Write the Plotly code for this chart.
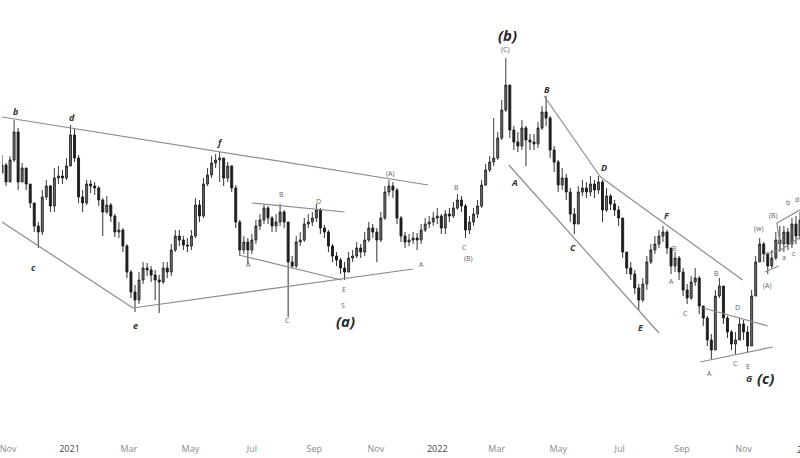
import pandas as pd
import plotly.graph_objects as go

# ---------------- data (4-day candles) ----------------
START = "2020-10-26"
FIRST_OPEN = 1900.5

close = [
    1912.5, 1887, 1920, 1962, 1887, 1908, 1884, 1855.5, 1821, 1812,
    1864.5, 1881, 1851, 1893, 1896, 1893, 1911, 1957.5, 1923, 1864.5,
    1855.5, 1884, 1881, 1878, 1860, 1842, 1852.5, 1836, 1812, 1815,
    1791, 1752, 1722, 1710, 1740, 1758, 1755, 1747.5, 1740, 1737,
    1758, 1752, 1785, 1806, 1800, 1792.5, 1791, 1806, 1852.5, 1836,
    1884, 1897.5, 1915.5, 1920, 1923, 1893, 1911, 1878, 1827, 1785,
    1797, 1785, 1800, 1821, 1830, 1848, 1833, 1821, 1827, 1842,
    1827, 1767, 1761, 1797, 1800, 1824, 1827, 1833, 1845, 1818,
    1812, 1791, 1776, 1770, 1758, 1752, 1773, 1776, 1788, 1782,
    1800, 1818, 1812, 1800, 1833, 1872, 1881, 1875, 1833, 1806,
    1797, 1800, 1803, 1800, 1815, 1824, 1827, 1833, 1836, 1818,
    1839, 1836, 1848, 1860, 1851, 1815, 1827, 1839, 1851, 1882.5,
    1905, 1917, 1923, 1953, 1995, 2032.5, 1965, 1947, 1941, 1968,
    1950, 1947, 1944, 1968, 1992, 1983, 1935, 1917, 1882.5, 1893,
    1872, 1839, 1824, 1872, 1878, 1872, 1884, 1875, 1887, 1845,
    1866, 1854, 1845, 1833, 1782, 1758, 1749, 1728, 1710, 1734,
    1767, 1785, 1794, 1806, 1812, 1788, 1761, 1773, 1752, 1725,
    1713, 1737, 1743, 1701, 1683, 1650, 1635, 1716, 1731, 1683,
    1662, 1644, 1650, 1674, 1662, 1641, 1716, 1767, 1794, 1779,
    1761, 1773, 1800, 1794, 1812, 1794, 1824, 1806, 1830,
]

high = [
    1927.5, 1915.5, 1926, 1980, 1968, 1915.5, 1908, 1882.5, 1852.5, 1827,
    1875, 1890, 1882.5, 1908, 1911, 1905, 1923, 1972.5, 1968, 1927.5,
    1875, 1890, 1890, 1887, 1881, 1863, 1866, 1855.5, 1839, 1827,
    1818, 1794, 1755, 1732.5, 1752, 1767, 1765.5, 1761, 1755, 1747.5,
    1767, 1767, 1794, 1815, 1815, 1806, 1803, 1815, 1863, 1860,
    1893, 1908, 1926, 1929, 1932, 1920, 1917, 1912.5, 1882.5, 1830,
    1806, 1803, 1809, 1830, 1839, 1854, 1851, 1836, 1839, 1854,
    1845, 1827, 1776, 1806, 1812, 1833, 1839, 1842, 1854, 1848,
    1822.5, 1815, 1794, 1782, 1773, 1767, 1782, 1785, 1797, 1794,
    1812, 1827, 1824, 1818, 1842, 1881, 1890, 1887, 1878, 1836,
    1812, 1809, 1812, 1810.5, 1824, 1833, 1836, 1842, 1848, 1839,
    1845, 1848, 1857, 1869, 1866, 1854, 1836, 1848, 1860, 1890,
    1914, 1926, 1983, 1962, 2010, 2073, 2010, 1971, 1962, 1980,
    1971, 1959, 1959, 1977, 2001, 2016, 1986, 1941, 1920, 1908,
    1899, 1878, 1848, 1881, 1890, 1887, 1896, 1890, 1896, 1890,
    1878, 1869, 1860, 1851, 1827, 1782, 1767, 1755, 1734, 1743,
    1776, 1794, 1806, 1815, 1821, 1815, 1788, 1782, 1776, 1758,
    1734, 1746, 1758, 1746, 1701, 1686, 1659, 1725, 1743, 1728,
    1686, 1665, 1662, 1683, 1680, 1671, 1725, 1776, 1803, 1797,
    1782, 1785, 1812, 1821, 1821, 1818, 1833, 1836, 1842,
]

low = [
    1902, 1881, 1890, 1917, 1875, 1887, 1875, 1848, 1812, 1788,
    1807.5, 1860, 1842, 1842, 1884, 1884, 1890, 1912.5, 1917, 1855.5,
    1842, 1852.5, 1870.5, 1867.5, 1851, 1806, 1839, 1827, 1804.5, 1803,
    1782, 1743, 1713, 1692, 1704, 1734, 1746, 1737, 1710, 1690.5,
    1734, 1743, 1746, 1782, 1791, 1785, 1782, 1785, 1803, 1827,
    1833, 1881, 1893, 1908, 1887, 1881, 1887, 1872, 1818, 1776,
    1779, 1764, 1779, 1794, 1815, 1824, 1824, 1812, 1812, 1821,
    1818, 1684.5, 1758, 1758, 1791, 1797, 1818, 1821, 1827, 1809,
    1803, 1782, 1767, 1761, 1749, 1740, 1752, 1767, 1773, 1773,
    1776, 1797, 1803, 1767, 1797, 1830, 1866, 1863, 1824, 1797,
    1788, 1791, 1794, 1785, 1794, 1812, 1818, 1821, 1824, 1809,
    1809, 1827, 1833, 1845, 1842, 1803, 1809, 1821, 1833, 1848,
    1881, 1902, 1911, 1920, 1950, 1992, 1953, 1935, 1932, 1935,
    1911, 1935, 1935, 1938, 1965, 1971, 1923, 1902, 1872, 1875,
    1860, 1827, 1809, 1827, 1866, 1863, 1866, 1863, 1869, 1827,
    1842, 1845, 1836, 1821, 1773, 1749, 1740, 1719, 1695, 1707,
    1725, 1764, 1779, 1788, 1797, 1779, 1749, 1752, 1740, 1716,
    1704, 1710, 1731, 1689, 1671, 1641, 1620, 1647, 1713, 1674,
    1653, 1635, 1629, 1653, 1650, 1632, 1641, 1716, 1767, 1767,
    1749, 1758, 1770, 1782, 1782, 1785, 1788, 1794, 1800,
]

# trend lines drawn by the analyst: (start date, start price, end date, end price)
trendlines = [
    ("2020-10-26", 1984.5, "2021-12-23", 1882.5),
    ("2020-10-26", 1827.0, "2021-03-05", 1698.0),
    ("2021-03-05", 1698.0, "2021-12-08", 1756.5),
    ("2021-06-18", 1777.5, "2021-09-28", 1740.0),
    ("2021-07-01", 1855.5, "2021-10-01", 1842.0),
    ("2022-04-17", 2016.0, "2022-06-12", 1894.5),
    ("2022-06-12", 1894.5, "2022-10-31", 1740.0),
    ("2022-03-13", 1912.5, "2022-08-09", 1660.5),
    ("2022-09-22", 1698.0, "2022-11-25", 1671.0),
    ("2022-09-19", 1617.0, "2022-11-30", 1639.5),
    ("2022-11-20", 1777.5, "2022-12-06", 1785.0),
    ("2022-11-22", 1752.0, "2022-12-06", 1761.0),
    ("2022-12-04", 1825.5, "2022-12-27", 1845.0),
    ("2022-12-08", 1785.0, "2022-12-27", 1804.5),
    ("2022-12-04", 1825.5, "2022-12-08", 1785.0),
]

# wave labels: (text, date, price, style)
wave_labels = [
    ("b", "2020-11-08", 1993.5, "med"),
    ("c", "2020-11-26", 1759.5, "med"),
    ("d", "2021-01-03", 1984.5, "med"),
    ("e", "2021-03-07", 1672.5, "med"),
    ("f", "2021-05-30", 1947.0, "med"),
    ("A", "2021-06-28", 1764.0, "small"),
    ("B", "2021-07-30", 1869.0, "small"),
    ("C", "2021-08-05", 1680.0, "small"),
    ("D", "2021-09-05", 1858.5, "small"),
    ("E", "2021-09-30", 1726.5, "small"),
    ("S", "2021-09-29", 1702.5, "small"),
    ("(a)", "2021-10-02", 1678.5, "big"),
    ("(A)", "2021-11-16", 1900.5, "small"),
    ("A", "2021-12-16", 1764.0, "small"),
    ("B", "2022-01-20", 1879.5, "small"),
    ("C", "2022-01-28", 1789.5, "small"),
    ("(B)", "2022-02-01", 1773.0, "small"),
    ("(C)", "2022-03-10", 2086.5, "small"),
    ("(b)", "2022-03-12", 2107.5, "big"),
    ("B", "2022-04-20", 2026.5, "med"),
    ("A", "2022-03-19", 1887.0, "med"),
    ("C", "2022-05-16", 1789.5, "med"),
    ("D", "2022-06-15", 1909.5, "med"),
    ("E", "2022-07-22", 1669.5, "med"),
    ("F", "2022-08-17", 1837.5, "med"),
    ("A", "2022-08-21", 1738.5, "small"),
    ("B", "2022-08-24", 1788.0, "small"),
    ("C", "2022-09-04", 1690.5, "small"),
    ("A", "2022-09-28", 1600.5, "small"),
    ("B", "2022-10-05", 1750.5, "small"),
    ("C", "2022-10-24", 1615.5, "small"),
    ("D", "2022-10-26", 1699.5, "small"),
    ("E", "2022-11-05", 1611.0, "small"),
    ("G", "2022-11-07", 1593.0, "med"),
    ("(c)", "2022-11-23", 1593.0, "big"),
    ("(w)", "2022-11-16", 1818.0, "small"),
    ("(A)", "2022-11-25", 1732.5, "small"),
    ("(B)", "2022-12-01", 1837.5, "small"),
    ("b", "2022-12-15", 1857.0, "small"),
    ("d", "2022-12-24", 1861.5, "small"),
    ("a", "2022-12-11", 1774.5, "small"),
    ("c", "2022-12-21", 1780.5, "small"),
]

tick_dates = ["2020-11-01", "2021-01-01", "2021-03-01", "2021-05-01", "2021-07-01",
              "2021-09-01", "2021-11-01", "2022-01-01", "2022-03-01", "2022-05-01",
              "2022-07-01", "2022-09-01", "2022-11-01"]
tick_names = ["Nov", "2021", "Mar", "May", "Jul", "Sep", "Nov", "2022",
              "Mar", "May", "Jul", "Sep", "Nov"]
YEAR_TICKS = {"2021", "2022", "2023"}

# ---------------- build ----------------
dates = pd.date_range(START, periods=len(close), freq="4D")
opens = [FIRST_OPEN] + close[:-1]
highs = [max(h, o, c) for h, o, c in zip(high, opens, close)]
lows = [min(l, o, c) for l, o, c in zip(low, opens, close)]

fig = go.Figure()
fig.add_trace(go.Candlestick(
    x=dates, open=opens, high=highs, low=lows, close=close,
    increasing=dict(line=dict(color="#262626", width=0.9), fillcolor="#6a6a6a"),
    decreasing=dict(line=dict(color="#1a1a1a", width=0.9), fillcolor="#1f1f1f"),
    whiskerwidth=0, showlegend=False, hoverinfo="skip",
))

for x0, y0, x1, y1 in trendlines:
    fig.add_shape(type="line", xref="x", yref="y", x0=x0, y0=y0, x1=x1, y1=y1,
                  line=dict(color="#8c8c8c", width=1.2))

styles = {
    "big": dict(size=15, color="#2a2a2a", bold=True),
    "med": dict(size=9, color="#333333", bold=True),
    "small": dict(size=7, color="#666666", bold=False),
}
for text, d, p, st in wave_labels:
    s = styles[st]
    t = f"<i>{text}</i>" if st != "small" else text
    if s["bold"]:
        t = f"<b>{t}</b>"
    fig.add_annotation(x=d, y=p, xref="x", yref="y", text=t, showarrow=False,
                       font=dict(family="Open Sans, Arial", size=s["size"], color=s["color"]))

ticktext = [f"<span style='color:#444'>{n}</span>" if n in YEAR_TICKS else n for n in tick_names]

fig.add_annotation(x=1.009, y=-0.027, xref="paper", yref="paper", text="2023",
                   showarrow=False, xanchor="center", yanchor="middle",
                   font=dict(family="Open Sans, Arial", size=9, color="#444"))

fig.update_layout(
    width=800, height=458,
    margin=dict(l=0, r=0, t=0, b=20),
    paper_bgcolor="white", plot_bgcolor="white",
    xaxis=dict(range=["2020-10-26", "2022-12-27"], rangeslider=dict(visible=False),
               showgrid=False, zeroline=False, showline=False,
               tickmode="array", tickvals=tick_dates, ticktext=ticktext,
               tickfont=dict(family="Open Sans, Arial", size=9, color="#8a8a8a"),
               ticks="", ticklabelstandoff=4, ticklabeloverflow="allow"),
    yaxis=dict(range=[1503, 2160], visible=False, showgrid=False, zeroline=False),
    showlegend=False,
)

fig.write_html("out.html", config={"displayModeBar": False},
               post_script="document.body.style.margin='0';document.body.style.padding='0';"
                           "document.body.style.overflow='hidden';")
